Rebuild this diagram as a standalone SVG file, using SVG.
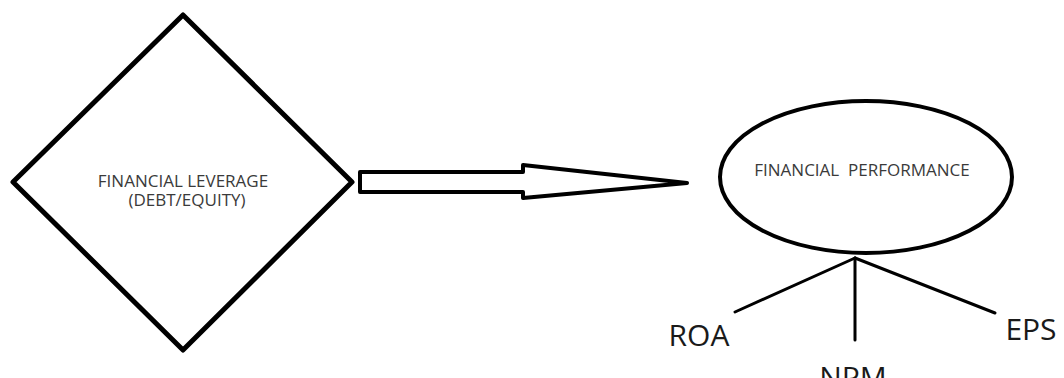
<svg xmlns="http://www.w3.org/2000/svg" width="1064" height="378" viewBox="0 0 1064 378">
  <style>
    .shape { fill: #ffffff; stroke: #000000; stroke-linejoin: round; }
    .small { font-family: "Open Sans", "Liberation Sans", sans-serif; font-size: 17px; fill: #3a3a3a; text-anchor: middle; white-space: pre; }
    .label { font-family: "Open Sans", "Liberation Sans", sans-serif; font-size: 30px; fill: #1a1a1a; text-anchor: middle; }
    .link { stroke: #000000; stroke-width: 3; stroke-linecap: round; fill: none; }
  </style>
  <rect width="1064" height="378" fill="#ffffff"/>

  <g id="financial-leverage">
    <polygon class="shape" stroke-width="5" points="183,15 352,182 183,350 13,182"/>
    <text class="small" x="183" y="187">FINANCIAL LEVERAGE</text>
    <text class="small" x="187" y="206">(DEBT/EQUITY)</text>
  </g>

  <g id="financial-performance">
    <ellipse class="shape" stroke-width="4" cx="866" cy="177" rx="146" ry="76"/>
    <text class="small" x="862" y="176">FINANCIAL  PERFORMANCE</text>
  </g>

  <g id="connectors">
    <polygon class="shape" stroke-width="4" points="360,172 523,172 523,165 687,183 523,198 523,192 360,192"/>
    <line class="link" x1="855" y1="258" x2="735" y2="312"/>
    <line class="link" x1="855" y1="258" x2="855" y2="340"/>
    <line class="link" x1="855" y1="258" x2="995" y2="313"/>
  </g>

  <g id="roa">
    <text class="label" x="699" y="346">ROA</text>
  </g>
  <g id="npm">
    <text class="label" x="853" y="388">NPM</text>
  </g>
  <g id="eps">
    <text class="label" x="1031" y="340">EPS</text>
  </g>
</svg>
